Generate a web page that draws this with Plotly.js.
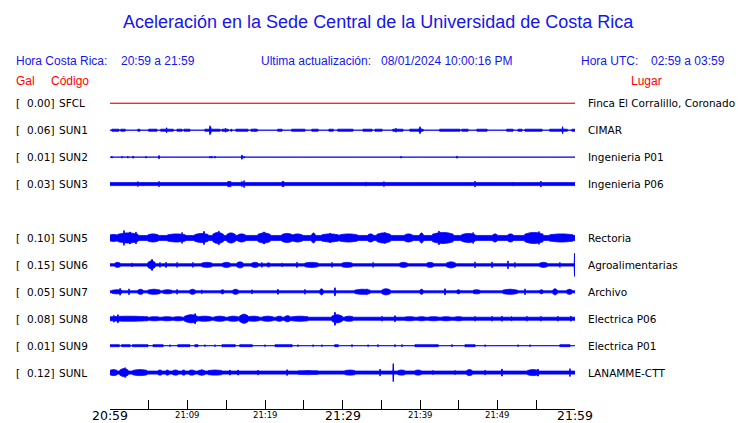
<!DOCTYPE html>
<html><head><meta charset="utf-8">
<script src="https://cdn.plot.ly/plotly-3.0.1.min.js"></script>
<style>html,body{margin:0;padding:0;background:#fff}#chart{width:740px;height:423px}</style>
</head><body><div id="chart"></div>
<script>
// ---------------- DATA ----------------
const codes  = ['SFCL','SUN1','SUN2','SUN3','SUN5','SUN6','SUN7','SUN8','SUN9','SUNL'];
const galMax = [0.00, 0.06, 0.01, 0.03, 0.10, 0.15, 0.05, 0.08, 0.01, 0.12];
const places = ['Finca El Corralillo, Coronado','CIMAR','Ingenieria P01','Ingenieria P06','Rectoria',
                'Agroalimentarias','Archivo','Electrica P06','Electrica P01','LANAMME-CTT'];
const slots  = [0,1,2,3,5,6,7,8,9,10];            // SUN4 slot is empty
// background half-amplitude of each trace (display units)
const baseAmp = [0.5, 0.5, 0.5, 2, 3, 1.7, 1.5, 2, 0.5, 2];
// bursts read from the record: [start minute, end minute, half amplitude]; minutes after 20:59
const sfclBursts = [];
const sun1Bursts = [[0.26,1.16,1.5],[1.42,1.94,1.5],[3.61,3.87,1.5],[5.03,6.06,1.5],[6.58,8.13,1.5],[8.65,9.29,1.5],[9.55,10.32,1.5],
  [12.26,14.19,1.5],[14.45,15.23,1.5],[15.6,15.7,1.5],[16.26,17.81,1.5],[18.19,18.97,1.5],[21.68,22.19,1.5],[23.48,25.16,1.5],
  [26.06,26.84,1.5],[28.26,28.77,1.5],[29.42,31.35,1.5],[32.65,33.81,1.5],[34.19,35.1,1.5],[36.52,37.81,1.5],[38.71,40.39,1.5],
  [42.58,45.16,1.5],[45.42,46.19,1.5],[47.35,48.65,1.5],[51.23,52.0,1.5],[52.65,53.16,1.5],[53.55,55.74,1.5],[56.77,58.97,1.5],
  [59.6,60,1.5],[7.3,7.3,3],[12.9,12.9,5],[13.0,13.0,3.5],[14.9,14.9,2.5],[18.7,18.7,2],[36.9,36.9,2.5],[39.9,40.1,2.5],
  [40.0,40.0,4],[58.4,58.4,4]];
const sun2Bursts = [[0.26,0.26,1.5],[1.55,1.55,1.5],[2.32,2.32,1.5],[2.97,2.97,1.5],[4.65,4.65,1.5],[6.32,6.32,2],[12.9,12.9,1.5],
  [13.16,13.16,1.5],[13.55,13.55,1.5],[17.03,17.03,2.5],[17.29,17.29,1.5],[37.55,37.55,1.5],[44.77,44.77,1.5]];
const sun3Bursts = [[3.61,3.61,3],[4.26,4.26,2.5],[6.32,6.32,3],[15.2,15.6,3],[17.03,17.03,3],[17.29,17.29,4],[22.2,22.45,3],
  [33.03,33.03,2.5],[35.35,35.35,3],[47.1,47.1,3.5],[52.0,52.0,2.5],[55.6,55.6,3.5]];
const sun5Bursts = [[0,0.9,4],[1.03,3.61,5.5],[1.81,1.81,8],[2.58,2.58,6.5],[3.35,3.35,6.5],[4.9,6.19,4.5],[7.48,9.68,4.5],
  [9.29,9.29,6],[10.97,12.65,5],[12.13,12.13,7],[13.29,14.58,6],[14.06,14.06,7.5],[15.1,16.13,5.5],[16.52,17.42,4.5],
  [19.1,20.65,5.5],[19.87,19.87,6.5],[22.19,23.48,5],[23.61,24.77,4.5],[26.06,26.45,5.5],[27.35,29.42,4.5],[28.39,28.39,5.5],
  [29.68,31.87,4.5],[33.29,33.94,4.5],[34.45,36.13,5.5],[35.48,35.48,6],[38.06,38.97,4.5],[40.0,40.39,5.5],[41.68,44.26,6],
  [42.45,42.45,7.5],[45.42,47.1,5],[46.84,46.84,6],[49.42,49.94,4.5],[51.35,52.0,4.5],[53.55,55.87,6],[55.35,55.35,7],[56.77,59.74,4.5]];
const sun6Bursts = [[0.65,1.29,3],[2.84,2.84,2.5],[4.9,5.81,4.5],[5.42,5.42,6],[6.45,6.45,3],[7.23,7.23,3],[8.65,8.65,3],
  [10.71,10.71,3],[11.87,13.16,3],[14.58,15.48,3],[16.39,17.16,3.5],[18.32,19.1,3],[19.61,19.61,3],[20.26,20.65,2.5],
  [22.19,22.19,2.5],[24.13,24.13,3],[25.16,26.84,3],[28.65,28.65,3],[29.94,31.23,3],[33.94,33.94,3],[37.42,38.32,3],
  [40.9,41.68,3],[43.48,44.52,3.5],[47.1,47.1,3.5],[49.29,49.29,3.5],[51.35,51.35,4.5],[52.26,52.26,3],[55.48,56.39,3],
  [58.06,58.06,3],[59.94,59.94,12]];
const sun7Bursts = [[0.26,1.55,2.5],[1.29,1.29,4],[2.45,2.45,3.5],[3.61,4.26,3],[4.9,6.45,3],[6.84,8.0,2.5],[8.65,8.65,3],
  [10.32,10.97,3],[11.87,11.87,2.5],[14.32,14.71,2.5],[15.87,16.52,3],[18.32,18.32,2.5],[21.68,21.68,3],[25.16,25.16,3],
  [27.1,27.48,3.5],[29.03,29.03,4.5],[31.61,33.55,3],[33.16,33.16,3.5],[35.1,36.13,3.5],[40.0,40.39,3],[43.23,43.23,3.5],
  [44.77,45.16,2.5],[46.84,47.74,2.5],[50.71,52.52,3],[53.55,53.55,3.5],[55.48,55.87,2.5],[57.16,57.68,3.5],[58.97,59.61,3]];
const sun8Bursts = [[0,4.9,3],[0.5,0.5,4],[1.03,1.03,4.5],[5.2,6.3,2.5],[6.8,7.9,2.5],[8.3,9.29,2.5],[9.68,11.23,4.5],[10.97,10.97,5.5],
  [11.35,13.0,3],[13.5,14.8,3],[15.3,16.52,3],[16.77,17.81,5],[17.81,19.2,3],[19.7,21.0,3],[21.5,22.19,3],[22.58,23.23,3.5],
  [23.48,25.55,3],[28.65,29.94,4.5],[29.03,29.03,7],[30.32,31.35,3],[35.1,35.1,3],[36.77,36.77,3.5],[38.06,39.2,2.5],
  [39.8,40.6,2.5],[41.2,42.32,2.5],[42.84,43.9,2.5],[44.5,45.42,2.5],[47.1,47.1,3],[49.29,49.29,3],[50.58,50.58,3],
  [51.74,51.87,2.5],[53.81,53.81,3],[55.61,55.61,3],[57.81,57.81,3],[59.48,59.48,3]];
const sun9Bursts = [[0,1.2,1.5],[1.5,2.6,1.5],[2.9,4.9,1.5],[5.55,6.84,1.5],[7.74,7.74,1.5],[8.77,10.32,1.5],[10.97,11.35,1.5],
  [12.26,12.26,1.5],[13.55,13.55,1.5],[14.45,16.13,1.5],[16.77,18.32,1.5],[20.0,20.0,1.5],[21.29,23.48,1.5],[24.26,24.26,1.5],
  [26.19,26.19,1.5],[27.35,27.35,1.5],[29.03,29.42,1.5],[31.23,31.23,1.5],[33.29,33.29,1.5],[34.58,34.58,1.5],[36.77,36.77,1.5],
  [37.68,37.68,1.5],[39.35,42.32,1.5],[44.13,44.13,1.5],[45.81,47.1,1.5],[48.39,48.39,1.5],[52.65,52.65,1.5],[54.19,54.19,1.5],
  [58.06,59.35,1.5]];
const sunlBursts = [[0,0.9,3.5],[1.29,2.32,4.5],[1.94,1.94,5.5],[2.97,4.77,3.5],[6.19,6.7,3],[7.2,7.6,3],[8.1,8.8,3],[9.3,9.7,3],
  [10.2,10.9,3],[11.4,12.26,3],[11.87,11.87,3.5],[12.65,14.45,3],[15.48,15.48,3],[16.52,16.52,3],[19.1,19.1,3],[22.84,22.84,3.5],
  [24.26,26.84,2.5],[30.32,31.61,3],[34.84,34.84,4],[36.56,36.56,9.5],[37.16,38.06,3],[39.35,40.13,3],[41.68,41.68,2.5],
  [44.52,44.52,2.5],[46.06,46.71,3.5],[48.39,48.39,3],[50.58,50.58,4],[53.93,55.23,3.5],[55.23,55.23,4],[59.35,59.35,4.5]];
const bursts = [sfclBursts,sun1Bursts,sun2Bursts,sun3Bursts,sun5Bursts,sun6Bursts,sun7Bursts,sun8Bursts,sun9Bursts,sunlBursts];

const tickMinutes = [0,5,10,15,20,25,30,35,40,45,50,55,60];
const labelMinutes = [0,10,20,30,40,50,60];
const labelText = ['20:59','21:09','21:19','21:29','21:39','21:49','21:59'];
const labelBig  = [true,false,false,true,false,false,true];

const titleText = 'Aceleración en la Sede Central de la Universidad de Costa Rica';
const headerTexts = ['Hora Costa Rica:','20:59 a 21:59','Ultima actualización:','08/01/2024 10:00:16 PM','Hora UTC:','02:59 a 03:59'];

// ---------------- STYLE ----------------
const traceColor = ['#ff0000','#0000ff','#0000ff','#0000ff','#0000ff','#0000ff','#0000ff','#0000ff','#0000ff','#0000ff'];
const spindle = [false,false,false,false,true,true,true,true,false,true];   // draw bursts as spindles

// ---------------- LAYOUT HELPERS ----------------
const L=110, R=575, T=90, B=409, ROWPX=26.93, ROW0=103.3;
const px = x => (x-L)/(R-L);
const py = y => (B-y)/(B-T);
const yTop = -(ROW0-T)/ROWPX, yBot = (B-ROW0)/ROWPX;
const SANS = 'Liberation Sans, Arial, sans-serif';
const DJ = 'DejaVu Sans, sans-serif';

const STEP = 0.05;
function envelope(base, segs, taper){
  const xs=[], a=[];
  for(let i=0;i<=1200;i++){
    const t=i*STEP; let v=base;
    for(const s of segs){
      if(t>=s[0]-0.03 && t<=s[1]+0.03){
        let amp=s[2];
        if(taper && s[1]-s[0]>0.2){
          const u=Math.min(Math.max((t-s[0])/(s[1]-s[0]),0),1);
          amp = base + (s[2]-base)*(0.45+0.55*Math.sin(Math.PI*u));
        }
        v=Math.max(v,amp);
      }
    }
    xs.push(t); a.push(v);
  }
  return {xs,a};
}

const data = [];
codes.forEach((c,k)=>{
  const row = slots[k];
  const e = envelope(baseAmp[k], bursts[k], spindle[k]);
  const h = e.a.map(v=>Math.max(v-0.5,0)/ROWPX);
  const x = e.xs.concat(e.xs.slice().reverse());
  const y = h.map(v=>row-v).concat(h.slice().reverse().map(v=>row+v));
  data.push({x, y, type:'scatter', mode:'lines', fill:'toself', fillcolor:traceColor[k],
    line:{color:traceColor[k], width:1, simplify:false}, hoverinfo:'skip', showlegend:false});
});

const ann = [];
function A(text,x,y,size,color,xanchor,family,yref){
  ann.push({text, x, y, xref:'paper', yref:yref||'paper', showarrow:false, xanchor, yanchor:'middle',
    font:{size, color, family}, borderpad:0});
}
A(titleText, px(378), py(22), 18, '#1515f0', 'center', SANS);
A(headerTexts[0], px(15), py(61), 12, '#1515f0', 'left', SANS);
A(headerTexts[1], px(120), py(61), 12, '#1515f0', 'left', SANS);
A(headerTexts[2], px(260), py(61), 12, '#1515f0', 'left', SANS);
A(headerTexts[3], px(380), py(61), 12, '#1515f0', 'left', SANS);
A(headerTexts[4], px(580), py(61), 12, '#1515f0', 'left', SANS);
A(headerTexts[5], px(650), py(61), 12, '#1515f0', 'left', SANS);
A('Gal', px(15), py(80.5), 12, '#ff0000', 'left', SANS);
A('Código', px(50), py(80.5), 12, '#ff0000', 'left', SANS);
A('Lugar', px(630), py(80.5), 12, '#ff0000', 'left', SANS);

codes.forEach((c,k)=>{
  const row = slots[k];
  A('[', px(15), row, 10.5, '#000', 'left', DJ, 'y');
  A(galMax[k].toFixed(2)+']', px(54.5), row, 10.5, '#000', 'right', DJ, 'y');
  A(c, px(57.5), row, 10.5, '#000', 'left', DJ, 'y');
  A(places[k], px(587), row, 10.5, '#000', 'left', DJ, 'y');
});
labelMinutes.forEach((m,i)=>{
  ann.push({text:labelText[i], x:m, y:py(labelBig[i]?415:414.5), xref:'x', yref:'paper', showarrow:false,
    xanchor:'center', yanchor:'middle', borderpad:0,
    font:{size:labelBig[i]?12.5:8.5, color:'#000', family:DJ}});
});

const layout = {
  width:740, height:423, paper_bgcolor:'#fff', plot_bgcolor:'#fff',
  margin:{l:L, r:740-R, t:T, b:423-B, pad:0},
  showlegend:false,
  xaxis:{range:[0,60], tickmode:'array', tickvals:tickMinutes, ticks:'inside', ticklen:9, tickwidth:1,
    tickcolor:'#000', showticklabels:false, showline:true, linecolor:'#000', linewidth:1,
    showgrid:false, zeroline:false, fixedrange:true},
  yaxis:{range:[yBot, yTop], showgrid:false, zeroline:false, showticklabels:false, ticks:'', showline:false, fixedrange:true},
  annotations: ann
};
Plotly.newPlot('chart', data, layout, {staticPlot:true, displayModeBar:false});
</script></body></html>
